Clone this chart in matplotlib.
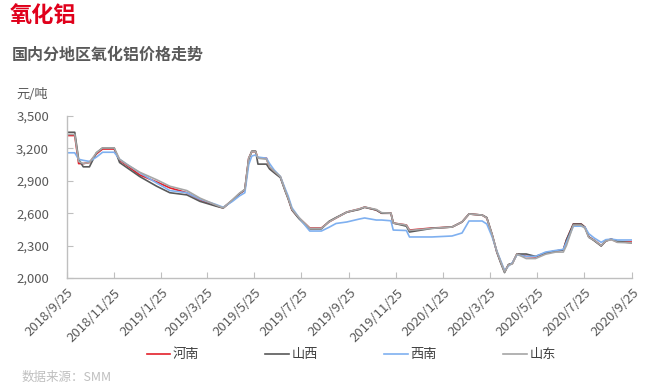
import numpy as np
import pandas as pd
import matplotlib
matplotlib.use('Agg')
import matplotlib.pyplot as plt

plt.rcParams['font.family'] = ['Noto Sans CJK SC', 'DejaVu Sans']

dates = ['2018-09-25', '2018-10-05', '2018-10-10', '2018-10-16', '2018-10-24', '2018-11-02',
         '2018-11-10', '2018-11-25', '2018-12-02', '2018-12-12', '2018-12-28', '2019-01-19',
         '2019-02-05', '2019-02-27', '2019-03-16', '2019-04-06', '2019-04-15', '2019-04-27',
         '2019-05-06', '2019-05-13', '2019-05-18', '2019-05-22', '2019-05-27', '2019-05-30',
         '2019-06-10', '2019-06-14', '2019-06-20', '2019-06-28', '2019-07-04', '2019-07-08',
         '2019-07-13', '2019-07-22', '2019-08-01', '2019-08-05', '2019-08-20', '2019-08-30',
         '2019-09-08', '2019-09-22', '2019-10-08', '2019-10-15', '2019-10-30', '2019-11-06',
         '2019-11-18', '2019-11-21', '2019-12-08', '2019-12-12', '2020-01-10', '2020-02-05',
         '2020-02-18', '2020-02-27', '2020-03-15', '2020-03-21', '2020-03-28', '2020-04-03',
         '2020-04-08', '2020-04-13', '2020-04-18', '2020-04-23', '2020-04-29', '2020-05-11',
         '2020-05-23', '2020-06-05', '2020-06-18', '2020-06-28', '2020-07-02', '2020-07-11',
         '2020-07-21', '2020-07-26', '2020-07-31', '2020-08-07', '2020-08-16', '2020-08-22',
         '2020-08-29', '2020-09-06', '2020-09-26']

henan = [3320, 3320, 3060, 3060, 3070, 3150, 3195, 3195, 3090, 3040, 2955, 2890,
         2835, 2790, 2725, 2670, 2650, 2720, 2780, 2815, 3110, 3170, 3170, 3110,
         3110, 3020, 2980, 2935, 2815, 2740, 2630, 2556, 2490, 2463, 2463, 2520,
         2556, 2611, 2639, 2657, 2630, 2600, 2600, 2509, 2491, 2444, 2463, 2472,
         2519, 2593, 2583, 2556, 2398, 2241, 2148, 2060, 2120, 2135, 2222, 2200,
         2195, 2232, 2250, 2260, 2352, 2500, 2500, 2470, 2380, 2350, 2300, 2343,
         2360, 2333, 2333]

shanxi = [3350, 3350, 3100, 3030, 3030, 3160, 3205, 3205, 3070, 3020, 2940, 2850,
          2790, 2770, 2710, 2665, 2648, 2720, 2780, 2820, 3100, 3175, 3175, 3055,
          3055, 3010, 2975, 2930, 2810, 2735, 2630, 2550, 2480, 2455, 2455, 2525,
          2560, 2610, 2635, 2655, 2630, 2600, 2600, 2509, 2480, 2426, 2460, 2472,
          2519, 2593, 2583, 2560, 2400, 2240, 2140, 2050, 2125, 2135, 2222, 2222,
          2200, 2232, 2250, 2260, 2352, 2500, 2500, 2470, 2380, 2345, 2296, 2343,
          2360, 2340, 2324]

xinan = [3160, 3160, 3100, 3090, 3080, 3120, 3165, 3165, 3100, 3050, 2975, 2880,
         2810, 2790, 2730, 2680, 2655, 2710, 2760, 2790, 3050, 3130, 3140, 3120,
         3110, 3060, 3000, 2940, 2830, 2760, 2650, 2560, 2470, 2435, 2435, 2470,
         2505, 2519, 2546, 2556, 2537, 2537, 2530, 2444, 2440, 2380, 2380, 2389,
         2417, 2528, 2528, 2500, 2380, 2250, 2160, 2070, 2110, 2140, 2215, 2200,
         2200, 2240, 2255, 2265, 2330, 2480, 2480, 2470, 2410, 2370, 2330, 2355,
         2360, 2352, 2352]

shandong = [3330, 3330, 3080, 3060, 3070, 3160, 3205, 3205, 3100, 3050, 2980, 2910,
            2850, 2810, 2740, 2675, 2650, 2725, 2785, 2820, 3110, 3170, 3170, 3110,
            3100, 3030, 2990, 2940, 2815, 2740, 2635, 2560, 2490, 2460, 2460, 2520,
            2556, 2611, 2640, 2657, 2635, 2605, 2600, 2509, 2490, 2440, 2460, 2472,
            2519, 2593, 2583, 2556, 2400, 2245, 2150, 2056, 2120, 2130, 2222, 2180,
            2180, 2220, 2240, 2240, 2300, 2490, 2490, 2460, 2375, 2350, 2300, 2343,
            2355, 2330, 2325]

tick_dates = ['2018-09-25', '2018-11-25', '2019-01-25', '2019-03-25', '2019-05-25',
              '2019-07-25', '2019-09-25', '2019-11-25', '2020-01-25', '2020-03-25',
              '2020-05-25', '2020-07-25', '2020-09-25']

series = [('河南', henan, '#e3202a'), ('山西', shanxi, '#595959'),
          ('西南', xinan, '#7fb0f0'), ('山东', shandong, '#a6a6a6')]

x = pd.to_datetime(dates)

fig = plt.figure(figsize=(6.47, 3.87), dpi=100)
ax = fig.add_axes([0.1036, 0.2817, 0.8734, 0.4183])

for name, vals, c in series:
    ax.plot(x, vals, color=c, lw=1.2, label=name)

ax.set_ylim(2000, 3500)
ax.set_yticks(np.arange(2000, 3501, 300))
ax.yaxis.set_major_formatter(matplotlib.ticker.FuncFormatter(lambda v, p: f'{int(v):,}'))
ax.set_xlim(pd.Timestamp('2018-09-25'), pd.Timestamp('2020-09-25'))
ticks = pd.to_datetime(tick_dates)
ax.set_xticks(ticks)
ax.set_xticklabels([f'{t.year}/{t.month}/{t.day}' for t in ticks], rotation=45,
                   ha='right', va='top', rotation_mode='anchor')

for s in ['top', 'right']:
    ax.spines[s].set_visible(False)
for s in ['left', 'bottom']:
    ax.spines[s].set_color('#bfbfbf')
    ax.spines[s].set_linewidth(1.0)
ax.tick_params(direction='in', length=4, color='#bfbfbf', labelcolor='#595959', labelsize=9.5)
ax.tick_params(axis='y', pad=13)
ax.tick_params(axis='x', pad=6)

fig.text(0.015, 0.96, '氧化铝', color='#e0001b', fontsize=16, fontweight='bold', va='center')
fig.text(0.018, 0.858, '国内分地区氧化铝价格走势', color='#595959', fontsize=11.5,
         fontweight='bold', va='center')
fig.text(0.025, 0.755, '元/吨', color='#595959', fontsize=9.5, va='center')
fig.text(0.033, 0.025, '数据来源：SMM', color='#bfbfbf', fontsize=9, va='center')

fig.legend(loc='center', bbox_to_anchor=(0.543, 0.083), ncol=4, frameon=False,
           handlelength=1.8, columnspacing=5.0, handletextpad=0.2,
           prop={'size': 9.5}, labelcolor='#404040')

fig.savefig('out.png', dpi=100)
